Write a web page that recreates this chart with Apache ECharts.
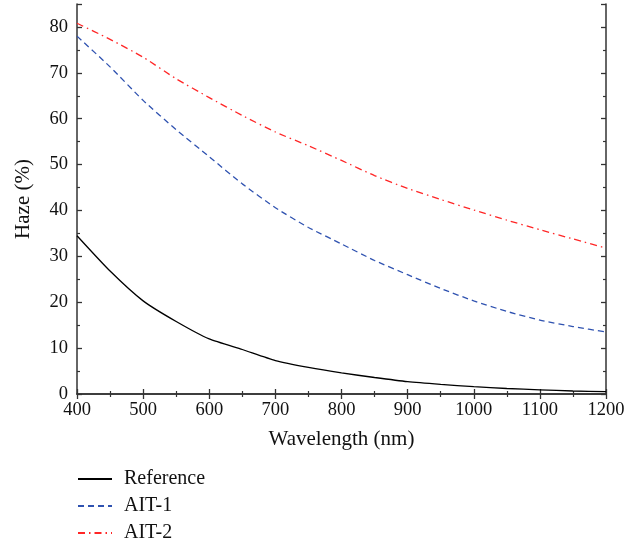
<!DOCTYPE html>
<html>
<head>
<meta charset="utf-8">
<script src="https://cdn.jsdelivr.net/npm/echarts@6/dist/echarts.min.js"></script>
<style>
  html, body { margin: 0; padding: 0; background: #fff; }
  #chart { width: 644px; height: 546px; }
</style>
</head>
<body>
<div id="chart"></div>
<script>
// wavelength (nm) sample points
const wavelength = [400, 450, 500, 550, 600, 650, 700, 750, 800, 850, 900, 950, 1000, 1050, 1100, 1150, 1200];
// haze (%)
const reference = [34.5, 26.8, 20.3, 15.8, 12.0, 9.7, 7.3, 5.8, 4.6, 3.6, 2.7, 2.1, 1.6, 1.2, 0.9, 0.65, 0.5];
const ait1 = [78.0, 71.3, 64.0, 57.6, 51.7, 45.8, 40.6, 36.3, 32.7, 29.1, 26.0, 23.0, 20.3, 18.0, 16.1, 14.7, 13.5];
const ait2 = [80.8, 77.3, 73.4, 68.7, 64.6, 60.7, 57.1, 54.1, 50.9, 47.6, 44.8, 42.4, 40.1, 37.9, 35.8, 33.8, 31.8];

const xTicks = { min: 400, max: 1200, interval: 100 };
const yTicks = { min: 0, max: 85, interval: 10 };

const font = '"Liberation Serif", "DejaVu Serif", serif';
const axisColor = '#333';

const pairs = vals => wavelength.map((w, i) => [w, vals[i]]);

const chart = echarts.init(document.getElementById('chart'));

const frameAxis = (extra) => Object.assign({
  type: 'value',
  axisLine: { show: true, lineStyle: { color: axisColor, width: 1.5 } },
  axisTick: { show: true, inside: true, length: 5, lineStyle: { color: axisColor, width: 1.3 } },
  minorTick: { show: true, splitNumber: 2, length: 3, lineStyle: { color: axisColor, width: 1.2 } },
  splitLine: { show: false },
  axisLabel: { show: false }
}, extra);

const labelStyle = {
  show: true, color: '#111', fontFamily: font, fontSize: 18.5,
  formatter: v => String(v)
};
const nameStyle = { fontFamily: font, fontSize: 21, color: '#111' };

chart.setOption({
  animation: false,
  grid: { left: 77, right: 38, top: 4, bottom: 152, containLabel: false },
  legend: {
    orient: 'vertical',
    left: 77,
    top: 469,
    padding: 0,
    itemWidth: 34,
    itemHeight: 14,
    itemGap: 7,
    itemStyle: { opacity: 0 },
    textStyle: { fontFamily: font, fontSize: 20, color: '#111', padding: [0, 0, 0, 7] },
    data: ['Reference', 'AIT-1', 'AIT-2']
  },
  xAxis: [
    frameAxis(Object.assign({
      position: 'bottom',
      name: 'Wavelength (nm)',
      nameLocation: 'middle',
      nameGap: 35,
      nameTextStyle: nameStyle,
      axisLabel: Object.assign({ margin: 7 }, labelStyle)
    }, xTicks)),
    frameAxis(Object.assign({ position: 'top' }, xTicks))
  ],
  yAxis: [
    frameAxis(Object.assign({
      position: 'left',
      name: 'Haze (%)',
      nameLocation: 'middle',
      nameGap: 43,
      nameTextStyle: nameStyle,
      axisLabel: Object.assign({ margin: 9, showMaxLabel: false }, labelStyle)
    }, yTicks)),
    frameAxis(Object.assign({ position: 'right' }, yTicks))
  ],
  series: [
    {
      name: 'Reference', type: 'line', data: pairs(reference),
      showSymbol: false, symbol: 'none', smooth: 0.2,
      lineStyle: { color: '#000', width: 1.3, type: 'solid' },
      itemStyle: { color: '#000' }
    },
    {
      name: 'AIT-1', type: 'line', data: pairs(ait1),
      showSymbol: false, symbol: 'none', smooth: 0.2,
      lineStyle: { color: '#2f52b0', width: 1.3, type: [6, 4] },
      itemStyle: { color: '#2f52b0' }
    },
    {
      name: 'AIT-2', type: 'line', data: pairs(ait2),
      showSymbol: false, symbol: 'none', smooth: 0.2,
      lineStyle: { color: '#ff2626', width: 1.3, type: [7, 4, 1.5, 4] },
      itemStyle: { color: '#ff2626' }
    }
  ]
});
</script>
</body>
</html>
